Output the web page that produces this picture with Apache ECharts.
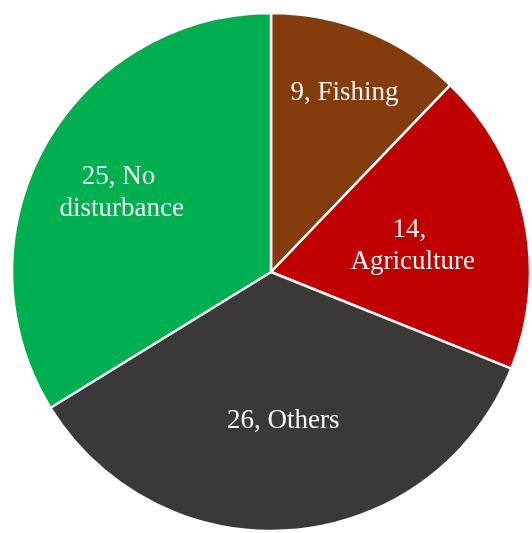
<!DOCTYPE html>
<html>
<head>
<meta charset="utf-8">
<script src="https://cdn.jsdelivr.net/npm/echarts@6/dist/echarts.min.js"></script>
<style>
html,body{margin:0;padding:0;background:#fff;}
#chart{width:532px;height:533px;}
</style>
</head>
<body>
<div id="chart"></div>
<script>
// Data
var categories = ['Fishing', 'Agriculture', 'Others', 'No disturbance'];
var values = [9, 14, 26, 25];
var colors = ['#843C0C', '#C00000', '#3B3838', '#00B050'];
// relative radial position of each label (fraction of radius)
var labelRadialFrac = [0.76, 0.56, 0.56, 0.66];

var CX = 271, CY = 272, R = 259;

var chart = echarts.init(document.getElementById('chart'), null, {renderer: 'canvas'});
var option = {
  animation: false,
  backgroundColor: '#ffffff',
  series: [{
    type: 'pie',
    center: [CX, CY],
    radius: [0, R],
    startAngle: 90,
    clockwise: true,
    avoidLabelOverlap: false,
    itemStyle: { borderColor: '#ffffff', borderWidth: 2.5 },
    label: {
      show: true,
      position: 'inside',
      formatter: function (p) { return p.value + ', ' + p.name; },
      color: '#f8f8f8',
      fontFamily: '"Liberation Serif", "Times New Roman", serif',
      fontSize: 27,
      lineHeight: 32,
      width: 140,
      overflow: 'break',
      align: 'center'
    },
    labelLine: { show: false },
    labelLayout: function (params) {
      var r = params.labelRect;
      var lx = r.x + r.width / 2, ly = r.y + r.height / 2;
      var vx = lx - CX, vy = ly - CY;
      var len = Math.sqrt(vx * vx + vy * vy) || 1;
      var target = labelRadialFrac[params.dataIndex] * R;
      return { dx: vx / len * target - vx, dy: vy / len * target - vy + 4 };
    },
    data: categories.map(function (c, i) {
      return { name: c, value: values[i], itemStyle: { color: colors[i] } };
    })
  }]
};
chart.setOption(option);
</script>
</body>
</html>
